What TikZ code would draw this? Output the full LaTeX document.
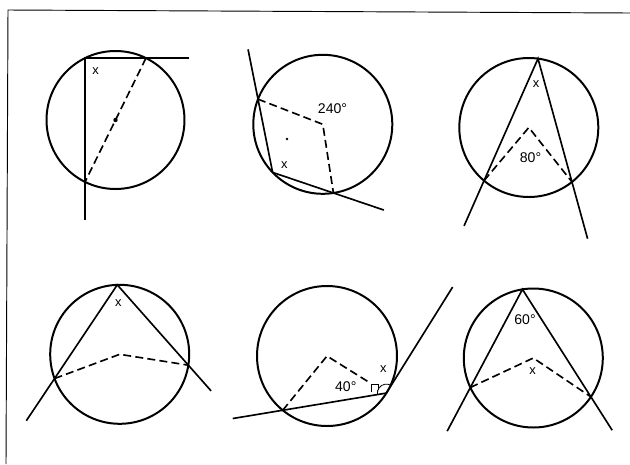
\documentclass[tikz,border=0pt]{standalone}
\usepackage{fontspec}
\setmainfont{Liberation Sans}
\usetikzlibrary{calc}
\begin{document}
\begin{tikzpicture}[x=0.03cm,y=-0.03cm,
  circ/.style={line width=1.7pt},
  sline/.style={line width=1.4pt},
  dline/.style={line width=1.4pt, dash pattern=on 6.8pt off 3.6pt},
  lbl/.style={font=\fontsize{12}{14}\selectfont, inner sep=0pt},
  xl/.style={font=\fontsize{11}{13}\selectfont, inner sep=0pt},
  frameline/.style={line width=0.8pt},
  thinmark/.style={line width=0.7pt}]
\useasboundingbox (0,0) rectangle (630,464);
% frame
\coordinate (F1) at (8,10);
\coordinate (F2) at (630,13);
\coordinate (F3) at (6,464);
\draw[frameline] (F2) -- (F1) -- (F3);

% ---------- figure 1 ----------
\coordinate (O1) at (115.5,120);
\draw[circ] (O1) circle[radius=69];
\coordinate (P1) at ($(O1)+(-116.2:69)$);
\coordinate (Q1) at ($(O1)+(-63.8:69)$);
\coordinate (R1) at ($(O1)+(116.2:69)$);
\coordinate (V1) at ($(P1)+(0,162)$);
\coordinate (H1) at ($(P1)+(104,0)$);
\draw[sline] (H1) -- (P1) -- (V1);
\draw[dline] (Q1) -- (R1);
\fill (O1) circle[radius=2.2];
\node[xl] (x1) at (95.7,70.7) {x};

% ---------- figure 2 ----------
\coordinate (O2) at (322.8,124.3);
\draw[circ] (O2) circle[radius=69.5];
\coordinate (A2) at ($(O2)+(201.2:69.5)$);
\coordinate (B2) at ($(O2)+(136.2:69.5)$);
\coordinate (C2) at ($(O2)+(81.2:69.5)$);
\coordinate (E2a) at ($(B2)!1.68!(A2)$);
\coordinate (E2b) at ($(B2)!1.83!(C2)$);
\draw[sline] (E2a) -- (B2) -- (E2b);
\draw[dline] (A2) -- (O2) -- (C2);
\coordinate (D2) at (287,139);
\fill (D2) circle[radius=1.3];
\node[lbl] (t2) at (332.5,109) {240°};
\node[xl] (x2) at (284.3,165) {x};

% ---------- figure 3 ----------
\coordinate (O3) at (528.8,127.5);
\draw[circ] (O3) circle[radius=69.5];
\coordinate (T3) at ($(O3)+(-82.4:69.5)$);
\coordinate (L3) at ($(O3)+(130.1:69.5)$);
\coordinate (R3) at ($(O3)+(51.6:69.5)$);
\coordinate (E3a) at ($(T3)!1.37!(L3)$);
\coordinate (E3b) at ($(T3)!1.46!(R3)$);
\draw[sline] (E3a) -- (T3) -- (E3b);
\draw[dline] (L3) -- (O3) -- (R3);
\node[xl] (x3) at (536,84) {x};
\node[lbl] (t3) at (530.5,157.3) {80°};

% ---------- figure 4 ----------
\coordinate (O4) at (119.7,354.3);
\draw[circ] (O4) circle[radius=69.5];
\coordinate (T4) at ($(O4)+(-92:69.5)$);
\coordinate (L4) at ($(O4)+(159.6:69.5)$);
\coordinate (R4) at ($(O4)+(9:69.5)$);
\coordinate (E4a) at ($(T4)!1.45!(L4)$);
\coordinate (E4b) at ($(T4)!1.32!(R4)$);
\draw[sline] (E4a) -- (T4) -- (E4b);
\draw[dline] (L4) -- (O4) -- (R4);
\node[xl] (x4) at (118.3,302.7) {x};

% ---------- figure 5 ----------
\coordinate (O5) at (327,356);
\draw[circ] (O5) circle[radius=70];
\coordinate (T5) at ($(O5)+(32:70)$);
\coordinate (L5) at ($(O5)+(129.2:70)$);
\coordinate (E5a) at ($(T5)!1.483!(L5)$);
\coordinate (E5b) at ($(T5)+(-58:125)$);
\coordinate (D5) at ($(O5)!0.71!(T5)$);
\draw[sline] (E5a) -- (T5) -- (E5b);
\draw[dline] (L5) -- (O5) -- (D5);
\draw[thinmark] ($(T5)+(171.5:9)$) arc[start angle=171.5, end angle=302, radius=9];
\coordinate (M1) at (371,392);
\coordinate (M2) at (371,384);
\coordinate (M3) at (378,384);
\coordinate (M4) at (378,390);
\draw[thinmark] (M1) -- (M2) -- (M3) -- (M4);
\node[xl] (x5) at (383.3,369) {x};
\node[lbl] (t5) at (345.8,386.7) {40°};

% ---------- figure 6 ----------
\coordinate (O6) at (533.3,358);
\draw[circ] (O6) circle[radius=69.5];
\coordinate (T6) at ($(O6)+(-99:69.5)$);
\coordinate (L6) at ($(O6)+(154.9:69.5)$);
\coordinate (R6) at ($(O6)+(34:69.5)$);
\coordinate (E6a) at ($(T6)!1.445!(L6)$);
\coordinate (E6b) at ($(T6)!1.31!(R6)$);
\draw[sline] (E6a) -- (T6) -- (E6b);
\draw[dline] (L6) -- (O6) -- (R6);
\node[lbl] (t6) at (525,319.3) {60°};
\node[xl] (x6) at (532.7,371) {x};
\end{tikzpicture}
\end{document}
